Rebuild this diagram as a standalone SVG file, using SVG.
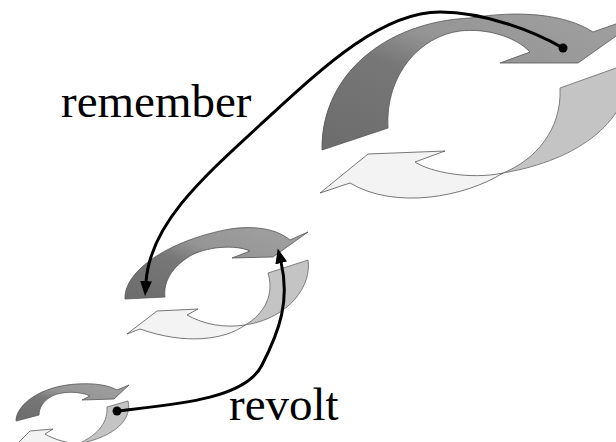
<svg xmlns="http://www.w3.org/2000/svg" width="616" height="442" viewBox="0 0 616 442">
<defs>
<linearGradient id="gTop" x1="0" y1="1" x2="1" y2="0">
<stop offset="0" stop-color="#6c6c6c"/>
<stop offset="0.42" stop-color="#777777"/>
<stop offset="0.58" stop-color="#959595"/>
<stop offset="1" stop-color="#a2a2a2"/>
</linearGradient>
<marker id="ah" markerUnits="userSpaceOnUse" markerWidth="15" markerHeight="12" viewBox="0 0 15 12" refX="1" refY="6" orient="auto">
<path d="M0,0 L15,6 L0,12 Z" fill="#000"/>
</marker>
</defs>
<style>
.top{fill:url(#gTop);stroke:#555;stroke-width:0.8}
.right{fill:#c4c4c4;stroke:#666;stroke-width:0.8}
.bot{fill:#f3f3f3;stroke:#555;stroke-width:0.8}
.conn{fill:none;stroke:#000;stroke-width:3}
.dot{fill:#000}
.lbl{font-family:"Liberation Serif","Times New Roman",serif;font-size:47px;fill:#000}
</style>
<rect width="616" height="442" fill="#fff"/>

<g id="cycle-large">
<path class="top" d="M322,150 C321,75 385,22 470,18 C520,10 565,14 593,32 L650,12 L578,63 L500,63 L530,52 C515,36 485,28 460,31 C420,36 385,75 388,128 Z"/>
<path class="right" d="M560,88 L630,63 C632,120 580,160 503,173 C535,160 562,130 560,88 Z"/>
<path class="bot" d="M368,154 L445,151 L415,162 C430,172 470,180 503,173 C465,197 395,210 350,183 L320,193 Z"/>
</g>

<g id="cycle-medium">
<path class="top" d="M125,299 C124,270 170,240 230,229 C258,225 278,230 290,240 L308,232 L273,257 L232,258 L250,251 C235,244 205,247 190,256 C172,267 163,282 165,297 Z"/>
<path class="right" d="M268,273 L308,260 C312,285 290,318 245,325 C258,318 276,300 268,273 Z"/>
<path class="bot" d="M157,311 L198,309 L187,315 C205,325 225,328 245,325 C225,340 185,345 140,329 L127,334 Z"/>
</g>

<g id="cycle-small">
<path class="top" d="M16,421 C16,405 40,386 77,384 C95,383 108,385 117,390 L129,385 L114,399 L82,400 L90,396 C80,391 62,391 52,396 C43,401 39,408 39,415 Z"/>
<path class="right" d="M107,407 L128,401 C132,418 118,436 78,444 C95,436 108,425 107,407 Z"/>
<path class="bot" d="M30,431 L53,429 L45,434 C55,440 68,443 78,444 C60,452 35,452 20,446 L12,449 Z"/>
</g>

<g id="connectors">
<path class="conn" d="M563,48 C535,32 485,12 440,12 C380,12 320,70 260,125 C200,180 150,225 146,282" marker-end="url(#ah)"/>
<circle class="dot" cx="563" cy="48" r="4.5"/>
<path class="conn" d="M117,411 C170,405 245,400 262,365 C280,330 290,300 281,262" marker-end="url(#ah)"/>
<circle class="dot" cx="117" cy="411" r="4.5"/>
</g>

<g id="labels">
<text class="lbl" x="61" y="117">remember</text>
<text class="lbl" x="229" y="420">revolt</text>
</g>
</svg>
